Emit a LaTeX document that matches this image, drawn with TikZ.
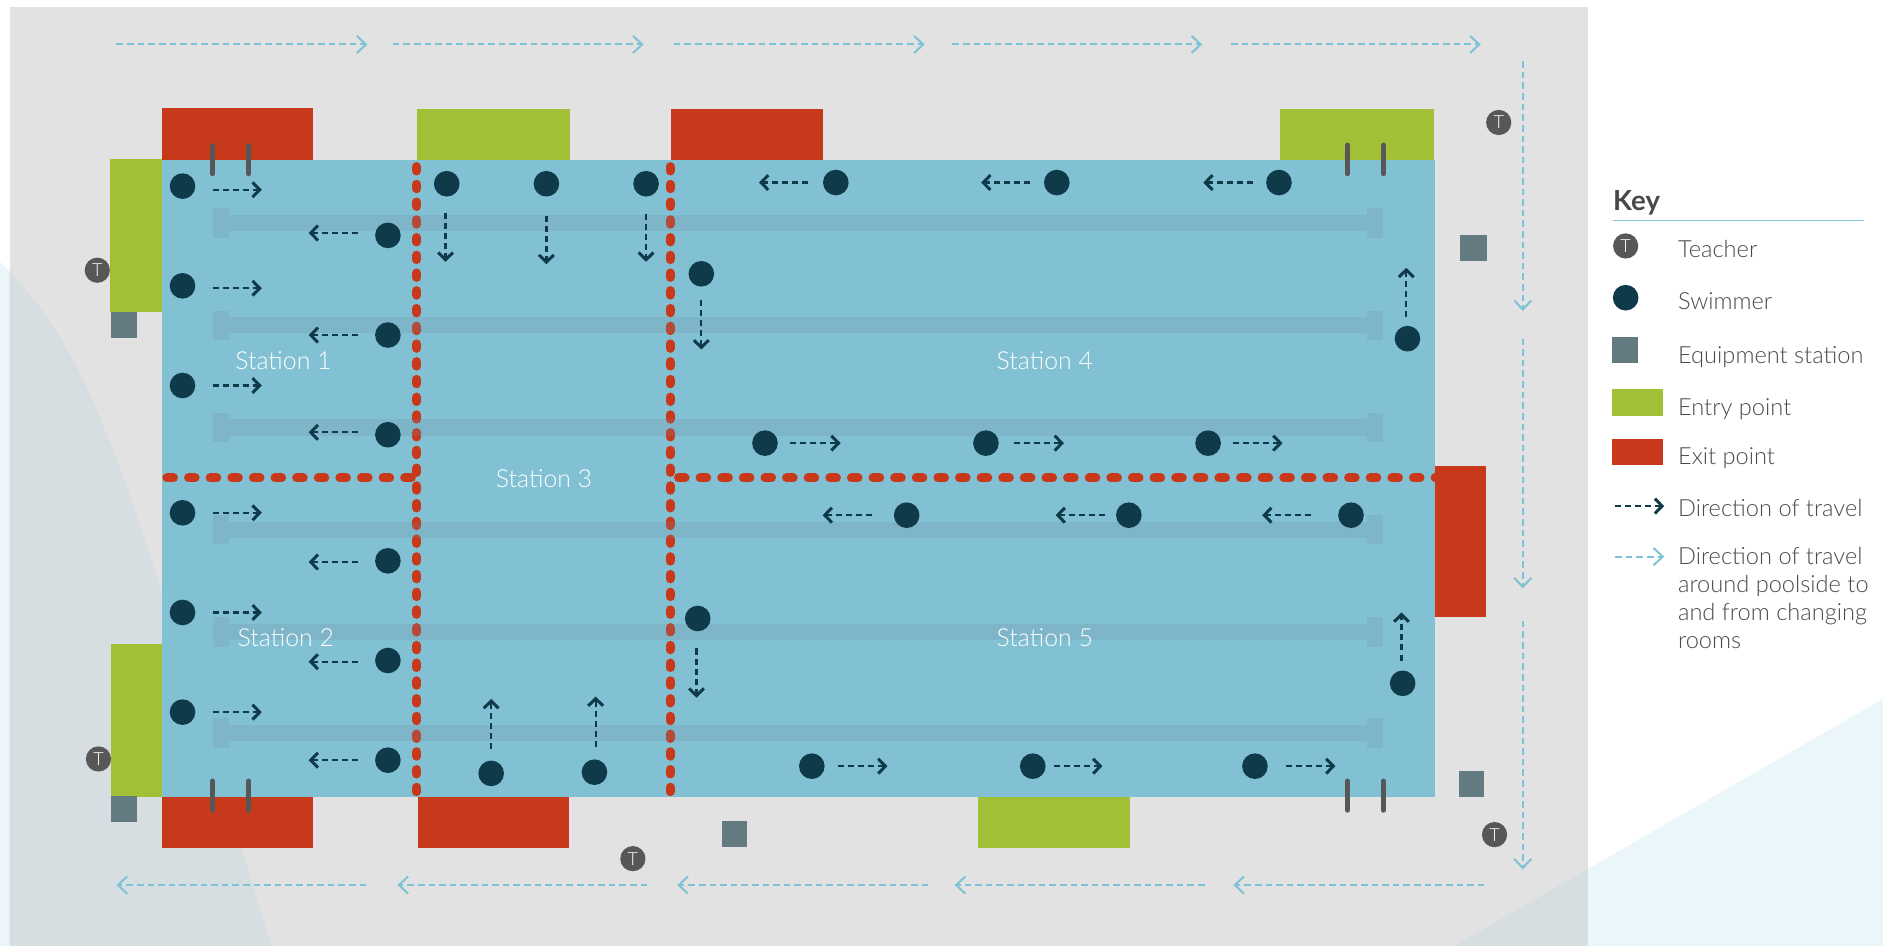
\documentclass[tikz,border=0pt]{standalone}
\usepackage{fontspec}
\setmainfont{Lato Light}
\newfontfamily\keybold{Lato Bold}
\usetikzlibrary{arrows.meta}
\definecolor{pool}{HTML}{82C0D3}
\definecolor{deck}{HTML}{E2E2E2}
\definecolor{pale}{HTML}{EAF6F9}
\definecolor{palegrey}{HTML}{D7DEE1}
\definecolor{rope}{HTML}{718EA4}
\definecolor{exitred}{HTML}{C8381A}
\definecolor{entrygreen}{HTML}{A1C035}
\definecolor{equip}{HTML}{627A80}
\definecolor{navy}{HTML}{0F3A49}
\definecolor{teach}{HTML}{575757}
\definecolor{keytext}{HTML}{48494B}
\definecolor{sky}{HTML}{7CC3D6}
\tikzset{
  exitbox/.style={fill=exitred},
  entrybox/.style={fill=entrygreen},
  equipbox/.style={fill=equip},
  swimmer/.style={circle,fill=navy,inner sep=0pt,minimum size=12.8pt},
  teacher/.style={circle,fill=teach,inner sep=0pt,minimum size=12.6pt,text=white,font=\fontsize{9}{9}\selectfont},
  darkarrow/.style={draw=navy,line width=1.1pt,dash pattern=on 3pt off 2pt,
     -{Straight Barb[length=3.6pt,width=7.4pt,line width=1.5pt]}},
  skyarrow/.style={draw=sky,line width=1pt,dash pattern=on 3.3pt off 2pt,
     -{Straight Barb[length=4.6pt,width=8.6pt,line width=1pt]}},
  reddots/.style={draw=exitred,line width=4.5pt,line cap=round,dash pattern=on 2.2pt off 6.66pt},
  reddash/.style={draw=exitred,line width=4.5pt,line cap=round,dash pattern=on 3.3pt off 7.5pt},
  stick/.style={draw=teach,line width=2.7pt,line cap=round},
  station/.style={text=white,font=\fontsize{12.4}{14}\selectfont,inner sep=0pt},
  keylabel/.style={text=keytext,font=\fontsize{11.8}{14}\selectfont,anchor=base west,inner sep=0pt},
}
\begin{document}
\begin{tikzpicture}[x=.6pt,y=-.6pt]
\useasboundingbox (0,0) rectangle (1568,787.7);
% pale corner shapes
\def\leftshape{(0,218) .. controls (45,262) and (70,310) .. (100,390) .. controls (140,500) and (180,640) .. (226,787.7) -- (0,787.7) -- cycle}
\def\rightshape{(1568,582) -- (1211,787.7) -- (1568,787.7) -- cycle}
\fill[pale] \leftshape;
\fill[pale] \rightshape;
% deck
\fill[deck] (8,6) rectangle (1322,787.7);
\begin{scope}
\clip (8,6) rectangle (1322,787.7);
\fill[palegrey] \leftshape;
\fill[palegrey] \rightshape;
\end{scope}
% entry and exit points
\fill[exitbox] (134.6,90.2) rectangle (260.4,134);
\fill[entrybox] (347,91) rectangle (475,134);
\fill[exitbox] (559,91) rectangle (685,134);
\fill[entrybox] (1066,90.5) rectangle (1194,134);
\fill[entrybox] (91.6,132) rectangle (135,259.5);
\fill[entrybox] (92.7,536.5) rectangle (135,663.5);
\fill[exitbox] (1195,388) rectangle (1237,514);
\fill[exitbox] (135,663) rectangle (261,706);
\fill[exitbox] (348,663) rectangle (474,706);
\fill[entrybox] (814,663) rectangle (941,706);
% pool
\fill[pool] (134.6,133.4) rectangle (1194.8,663.4);
% station dividers
\draw[reddots] (347,138.7) -- (347,660);
\draw[reddots] (558,138.7) -- (558,660);
\draw[reddash] (139,398) -- (347,398);
\draw[reddash] (565,398) -- (1195,398);
% lane ropes
\foreach \ly in {186,271,356,441,526,610.5}{
  \fill[rope,opacity=.22] (190.7,\ly-6.7) rectangle (1138,\ly+6.7);
  \fill[rope,opacity=.22] (177,\ly-12.4) rectangle (190.7,\ly+12.4);
  \fill[rope,opacity=.22] (1138,\ly-12.4) rectangle (1152,\ly+12.4);
}
% equipment
\fill[equipbox] (92.2,260) rectangle (114,281.7);
\fill[equipbox] (92.5,663) rectangle (114,684.5);
\fill[equipbox] (601,684) rectangle (622,705);
\fill[equipbox] (1216,196) rectangle (1238,217);
\fill[equipbox] (1215,641.7) rectangle (1236,663.4);
% sticks
\foreach \sx in {177,207}{
  \draw[stick] (\sx,121.5) -- (\sx,144.5);
  \draw[stick] (\sx,650.5) -- (\sx,674.5);
}
\foreach \sx in {1122,1152}{
  \draw[stick] (\sx,121) -- (\sx,144.5);
  \draw[stick] (\sx,650.5) -- (\sx,674.5);
}
% swimmers
\foreach \n/\px/\py in {1/152/155,2/152/238,3/152/321,4/152/427,5/152/510,6/152/593,
  7/323/196,8/323/279,9/323/362,10/323/467,11/323/550,12/323/633,
  13/372/153,14/455/153,15/538/153,16/696/152,17/880/152,18/1065/152,
  19/584/228,20/1172/282,21/637/369,22/821/369,23/1006/369,
  24/755/429,25/940/429,26/1125/429,27/581/515,28/1168/569,
  29/409/644,30/495/643,31/676/638,32/860/638,33/1045/638}{
  \node[swimmer] (sw\n) at (\px,\py) {};
}
% swimmer directions
\foreach \ax/\ay/\bx/\by in {
  177/158/218/158,177/240/218/240,177/321/218/321,177/427/218/427,177/510/218/510,177/593/218/593,
  298/194/257/194,298/279/257/279,298/360/257/360,298/468/257/468,298/551/257/551,298/633/257/633,
  371/177/371/218,455/180/455/220,538/178/538/218,
  673/152/632/152,858/152/817/152,1043/152/1002/152,
  1171/264/1171/223,584/250/584/291,
  658/369/700/369,844/369/886/369,1027/369/1068/369,
  726/429/685/429,920/429/879/429,1092/429/1051/429,
  1167/550/1167/510,580/540/580/581,
  409/624/409/582,496/622/496/580,
  698/638/739/638,878/638/918/638,1071/638/1112/638}{
  \draw[darkarrow] (\ax,\ay) -- (\bx,\by);
}
% poolside directions
\foreach \ax/\bx in {97/306,327/536,561/770,793/1001,1025/1233}{
  \draw[skyarrow] (\ax,37) -- (\bx,37);
}
\foreach \ax/\bx in {305/97,539/331,773/564,1003/795,1236/1027}{
  \draw[skyarrow] (\ax,737) -- (\bx,737);
}
\foreach \ay/\by in {51/259,282/490,517/724}{
  \draw[skyarrow] (1268,\ay) -- (1268,\by);
}
% teachers
\node[teacher] (t1) at (81,225) {T};
\node[teacher] (t2) at (82,632) {T};
\node[teacher] (t3) at (527,715) {T};
\node[teacher] (t4) at (1248,102) {T};
\node[teacher] (t5) at (1244.5,695) {T};
% station labels
\node[station] (st1) at (236,300.5) {Station 1};
\node[station] (st2) at (238,531) {Station 2};
\node[station] (st3) at (453,399) {Station 3};
\node[station] (st4) at (870,300.5) {Station 4};
\node[station] (st5) at (870,531) {Station 5};
% key
\node[anchor=base west,inner sep=0pt,text=keytext,font=\keybold\fontsize{13.8}{16}\selectfont] (keyhead) at (1343,175) {Key};
\draw[pool,line width=.7pt] (1343,183.5) -- (1552,183.5);
\node[teacher] (kt) at (1353.7,204.8) {T};
\node[swimmer] (ks) at (1353.7,247.9) {};
\fill[equipbox] (1342.4,280.9) rectangle (1364,302);
\fill[entrybox] (1342.4,323.7) rectangle (1384.6,346.6);
\fill[exitbox] (1342.4,365.7) rectangle (1384.6,387.5);
\draw[darkarrow] (1345,421.4) -- (1385.8,421.4);
\draw[skyarrow] (1345,463.5) -- (1385.8,463.5);
\node[keylabel] (l1) at (1397,214.8) {Teacher};
\node[keylabel] (l2) at (1397,258) {Swimmer};
\node[keylabel] (l3) at (1397,302.5) {Equipment station};
\node[keylabel] (l4) at (1397,345.7) {Entry point};
\node[keylabel] (l5) at (1397,386.5) {Exit point};
\node[keylabel] (l6) at (1397,430.5) {Direction of travel};
\node[keylabel] (l7) at (1397,469.7) {Direction of travel};
\node[keylabel] (l8) at (1397,493) {around poolside to};
\node[keylabel] (l9) at (1397,516.3) {and from changing};
\node[keylabel] (l10) at (1397,539.6) {rooms};
\end{tikzpicture}
\end{document}
